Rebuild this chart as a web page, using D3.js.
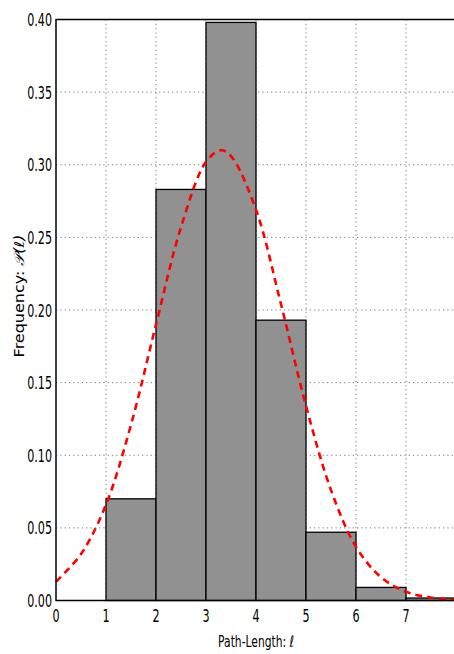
<!DOCTYPE html>
<html><head><meta charset="utf-8">
<script src="https://cdn.jsdelivr.net/npm/d3@7"></script>
<style>body{margin:0;background:#fff}svg{display:block}</style>
</head><body>
<script>
// Histogram of path lengths: bins [start, start+1)
const binStarts = [1, 2, 3, 4, 5, 6, 7];
const binFreq   = [0.070, 0.283, 0.398, 0.193, 0.047, 0.009, 0.0017];
// Fitted density curve (dashed red)
const fitX = [0, 0.5, 1, 1.5, 2, 2.5, 3, 3.3, 3.5, 4, 4.5, 5, 5.5, 6, 6.5, 7, 7.5, 8];
const fitY = [0.013, 0.032, 0.066, 0.121, 0.190, 0.257, 0.302, 0.310, 0.306, 0.269, 0.204, 0.134, 0.076, 0.037, 0.016, 0.006, 0.002, 0.0005];
const xTicks = [0, 1, 2, 3, 4, 5, 6, 7];
const yTicks = [0.00, 0.05, 0.10, 0.15, 0.20, 0.25, 0.30, 0.35, 0.40];
const xLabel = "Path-Length: ";
const yLabel = "Frequency: ";

const W = 454, H = 654;
const m = {left: 56, right: 456, top: 19.5, bottom: 600.5};
const sx = 0.62; // horizontal text compression

const svg = d3.select("body").append("svg").attr("width", W).attr("height", H);
const x = d3.scaleLinear().domain([0, 8]).range([m.left, m.right]);
const y = d3.scaleLinear().domain([0, 0.40]).range([m.bottom, m.top]);

// grid
const grid = svg.append("g").attr("stroke", "#808080").attr("stroke-width", 1)
  .attr("stroke-dasharray", "1.3,3");
grid.selectAll(".gx").data(xTicks.slice(1)).join("line")
  .attr("x1", d => x(d)).attr("x2", d => x(d)).attr("y1", m.top).attr("y2", m.bottom);
grid.selectAll(".gy").data(yTicks.slice(1, -1)).join("line")
  .attr("x1", m.left).attr("x2", m.right).attr("y1", d => y(d)).attr("y2", d => y(d));

// bars
svg.append("g").selectAll("rect").data(binStarts).join("rect")
  .attr("x", d => x(d)).attr("width", d => x(d + 1) - x(d))
  .attr("y", (d, i) => y(binFreq[i])).attr("height", (d, i) => y(0) - y(binFreq[i]))
  .attr("fill", "#919191").attr("stroke", "#000").attr("stroke-width", 1.3);

// fitted curve
const line = d3.line().x((d, i) => x(fitX[i])).y(d => y(d)).curve(d3.curveCatmullRom);
svg.append("path").attr("d", line(fitY)).attr("fill", "none")
  .attr("stroke", "#ff0000").attr("stroke-width", 2.6).attr("stroke-dasharray", "7,5");

// frame
svg.append("rect").attr("x", m.left).attr("y", m.top)
  .attr("width", m.right - m.left).attr("height", m.bottom - m.top)
  .attr("fill", "none").attr("stroke", "#000").attr("stroke-width", 1.5);

// tick labels
const font = "DejaVu Sans";
svg.append("g").selectAll("text").data(xTicks).join("text")
  .attr("transform", d => `translate(${x(d)},622) scale(${sx},1)`)
  .attr("text-anchor", "middle").attr("font-family", font).attr("font-size", 18)
  .text(d => d);
svg.append("g").selectAll("text").data(yTicks).join("text")
  .attr("transform", d => `translate(52,${y(d) + 6.5}) scale(${sx},1)`)
  .attr("text-anchor", "end").attr("font-family", font).attr("font-size", 18)
  .text(d => d3.format(".2f")(d));

// axis titles
const xt = svg.append("text")
  .attr("transform", `translate(${(m.left + m.right) / 2},647) scale(0.67,1)`)
  .attr("text-anchor", "middle").attr("font-family", font).attr("font-size", 16);
xt.append("tspan").text(xLabel);
xt.append("tspan").attr("font-style", "italic").text("ℓ");

const yt = svg.append("text")
  .attr("transform", `translate(24,296) scale(0.85,1) rotate(-90)`)
  .attr("text-anchor", "middle").attr("font-family", font).attr("font-size", 16);
yt.append("tspan").text(yLabel);
yt.append("tspan").attr("font-style", "italic").text("𝒫(ℓ)");
</script>
</body></html>
